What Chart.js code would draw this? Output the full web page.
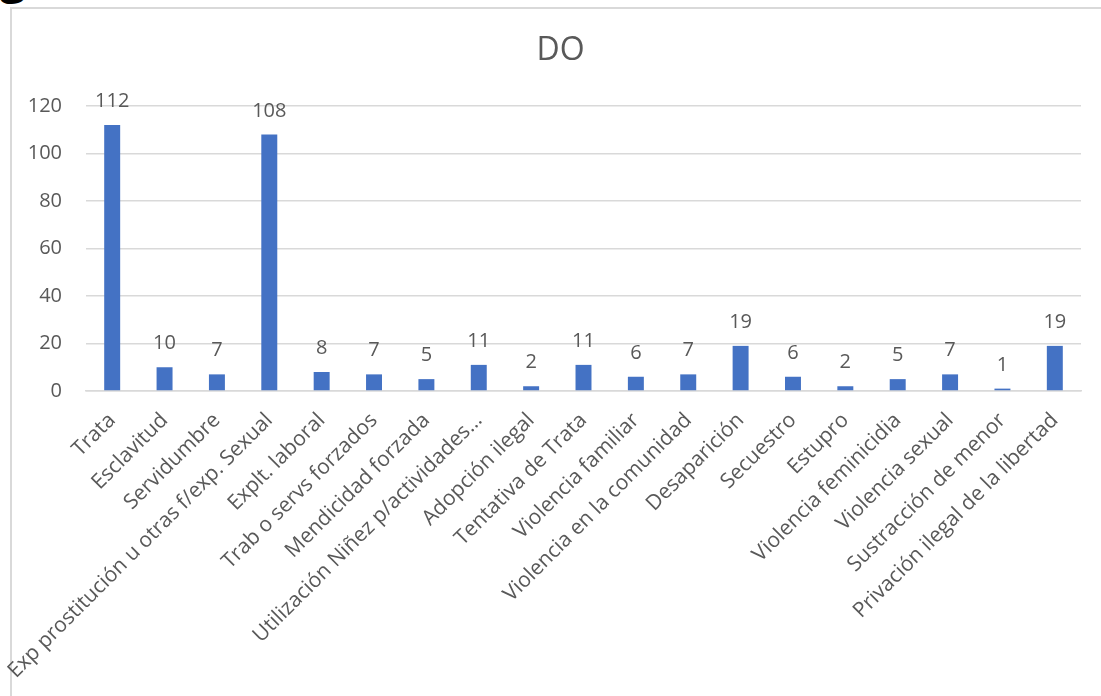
<!DOCTYPE html>
<html>
<head>
<meta charset="utf-8">
<script src="https://cdn.jsdelivr.net/npm/chart.js@4"></script>
<style>
  html, body { margin: 0; padding: 0; background: #fff; overflow: hidden; }
  #marco { position: absolute; left: 10px; top: 7px; width: 1200px; height: 800px;
           border-left: 2px solid #d9d9d9; border-top: 2px solid #d9d9d9; }
  #letra { position: absolute; left: 0; top: -48px; font: bold 46px "Open Sans"; line-height: 46px; color: #000; }
  #wrap { position: absolute; left: 0; top: 0; width: 1101px; height: 696px; }
</style>
</head>
<body>
<div id="letra">g</div>
<div id="marco"></div>
<div id="wrap"><canvas id="grafico"></canvas></div>
<script>
// Categorías y valores (DO)
const titulo = 'DO';
const categorias = [
  'Trata', 'Esclavitud', 'Servidumbre', 'Exp prostitución u otras f/exp. Sexual',
  'Explt. laboral', 'Trab o servs forzados', 'Mendicidad forzada',
  'Utilización Niñez p/actividades…', 'Adopción ilegal', 'Tentativa de Trata',
  'Violencia familiar', 'Violencia en la comunidad', 'Desaparición', 'Secuestro',
  'Estupro', 'Violencia feminicidia', 'Violencia sexual', 'Sustracción de menor',
  'Privación ilegal de la libertad'
];
const valores = [112, 10, 7, 108, 8, 7, 5, 11, 2, 11, 6, 7, 19, 6, 2, 5, 7, 1, 19];
const ticksY = [0, 20, 40, 60, 80, 100, 120];

const gris = '#595959';
const fuente = '"Open Sans", "Noto Sans", sans-serif';

// Etiquetas de datos encima de cada barra + título centrado en el marco
const etiquetas = {
  id: 'etiquetas',
  afterDatasetsDraw(chart) {
    const ctx = chart.ctx;
    const meta = chart.getDatasetMeta(0);
    ctx.save();
    ctx.fillStyle = gris;
    ctx.font = '20px ' + fuente;
    ctx.textAlign = 'center';
    ctx.textBaseline = 'alphabetic';
    meta.data.forEach((bar, i) => {
      ctx.fillText(String(valores[i]), bar.x, bar.y - 18);
    });
    // título
    ctx.font = '32px ' + fuente;
    ctx.textBaseline = 'middle';
    ctx.fillText(titulo, (chart.width + 20) / 2, 51);
    ctx.restore();
  }
};

var ctx = document.getElementById('grafico').getContext('2d');
var grafico = new Chart(ctx, {
  type: 'bar',
  data: {
    labels: categorias,
    datasets: [{
      label: titulo,
      data: valores,
      backgroundColor: '#4472C4',
      borderWidth: 0,
      barPercentage: 0.305,
      categoryPercentage: 1
    }]
  },
  options: {
    responsive: true,
    maintainAspectRatio: false,
    animation: false,
    layout: { padding: { left: 0, right: 20, top: 106, bottom: 0 } },
    plugins: {
      legend: { display: false },
      tooltip: { enabled: false },
      title: { display: false }
    },
    scales: {
      x: {
        grid: { display: false },
        border: { display: true, color: '#d9d9d9', width: 1.5 },
        ticks: {
          color: gris,
          font: { family: fuente, size: 21 },
          minRotation: 45,
          maxRotation: 45,
          autoSkip: false,
          padding: 9
        },
        afterFit(scale) { scale.height = 305; }
      },
      y: {
        min: 0,
        max: 120,
        afterBuildTicks(scale) { scale.ticks = ticksY.map(v => ({ value: v })); },
        grid: { color: '#d9d9d9', lineWidth: 1.5, drawTicks: false },
        border: { display: false },
        ticks: {
          color: gris,
          font: { family: fuente, size: 20 },
          padding: 24
        },
        afterFit(scale) { scale.width = 86; }
      }
    }
  },
  plugins: [etiquetas]
});
</script>
</body>
</html>
